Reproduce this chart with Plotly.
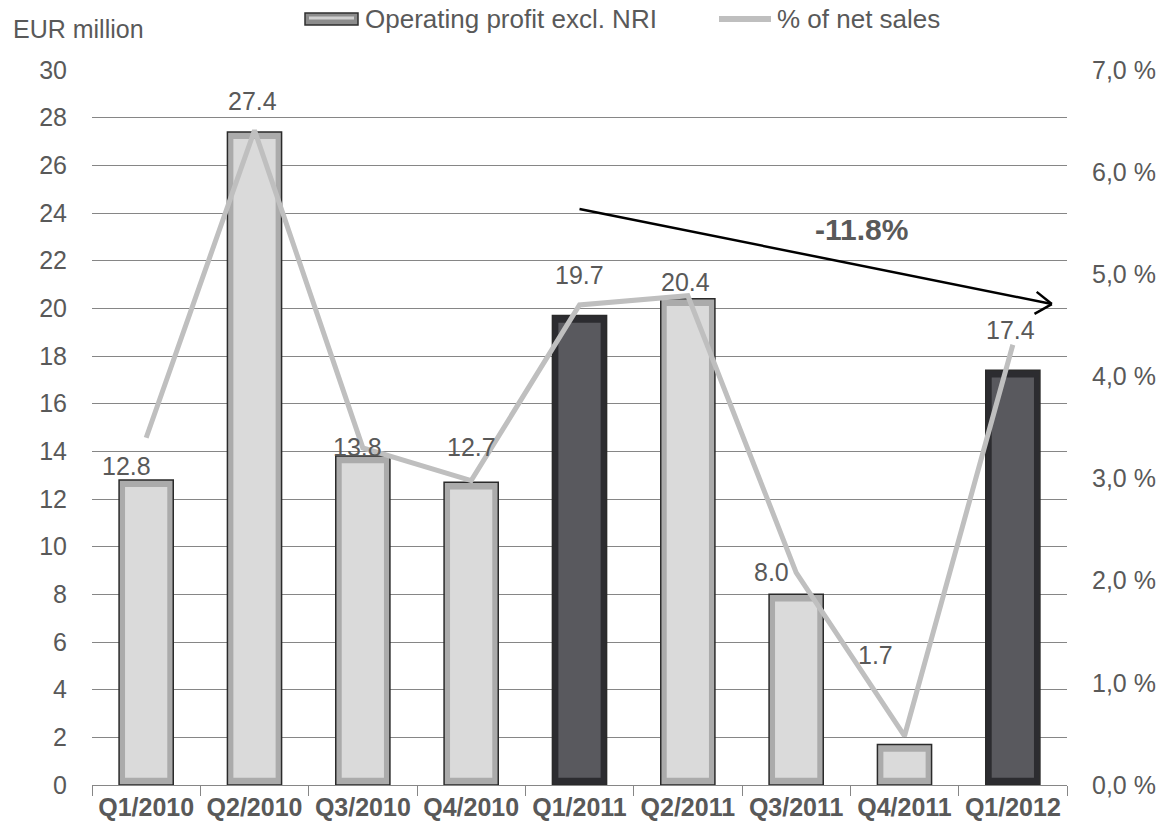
import plotly.graph_objects as go

quarters = ["Q1/2010", "Q2/2010", "Q3/2010", "Q4/2010", "Q1/2011",
            "Q2/2011", "Q3/2011", "Q4/2011", "Q1/2012"]
op_profit = [12.8, 27.4, 13.8, 12.7, 19.7, 20.4, 8.0, 1.7, 17.4]
pct_net_sales = [3.40, 6.41, 3.30, 2.98, 4.70, 4.79, 2.08, 0.48, 4.31]
highlight = [False, False, False, False, True, False, False, False, True]
left_ticks = list(range(0, 31, 2))
right_ticks = [0, 1, 2, 3, 4, 5, 6, 7]
right_ticktext = ["0,0 %", "1,0 %", "2,0 %", "3,0 %", "4,0 %", "5,0 %", "6,0 %", "7,0 %"]
trend_label = "-11.8%"
bar_name = "Operating profit excl. NRI"
line_name = "% of net sales"

# label placement styles (offset above value in axis units, horizontal shift in px)
label_dy = [0.58, 1.28, 0.37, 1.47, 1.68, 0.69, 0.93, 3.75, 1.68]
label_dx = [-20, -2, -5, 0, 0, -2, -25, -29, -2]

LIGHT_FACE, LIGHT_RIM = "#dadada", "#ababab"
DARK_FACE, DARK_RIM = "#59595e", "#2c2c30"
TXT = "#595959"
LINEC = "#bfbfbf"
FONT = "Liberation Sans, Arial, sans-serif"
BEVEL = 0.3  # bevel thickness in axis units (style)

W, H = 1161, 828
ML, MR, MT, MB = 92, 94, 70, 43
PW, PH = W - ML - MR, H - MT - MB


def px(xpix):
    return (xpix - ML) / PW


def py(ypix):
    return (H - MB - ypix) / PH


fig = go.Figure()
# outer bar (bevel rim)
fig.add_trace(go.Bar(
    x=quarters, y=op_profit, name=bar_name, showlegend=False,
    marker=dict(color=[DARK_RIM if h else LIGHT_RIM for h in highlight],
                line=dict(color="#2a2a2a", width=1.5)),
    width=0.5, yaxis="y",
))
# inner face of the bevelled bar
fig.add_trace(go.Bar(
    x=quarters, y=[v - 2 * BEVEL for v in op_profit], base=BEVEL,
    name=bar_name, showlegend=False, hoverinfo="skip",
    marker=dict(color=[DARK_FACE if h else LIGHT_FACE for h in highlight],
                line=dict(width=0)),
    width=0.39, yaxis="y",
))
fig.add_trace(go.Scatter(
    x=quarters, y=pct_net_sales, name=line_name, mode="lines", showlegend=False,
    line=dict(color=LINEC, width=5), yaxis="y2",
))

for i, (q, v) in enumerate(zip(quarters, op_profit)):
    fig.add_annotation(x=q, y=v + label_dy[i], text=f"{v:.1f}", showarrow=False,
                       xshift=label_dx[i], font=dict(size=25, color=TXT, family=FONT),
                       xref="x", yref="y")

# trend arrow
ax0, ay0, ax1, ay1 = 4.0, 24.17, 8.36, 20.18
arm = dict(color="black", width=2.5)
fig.add_shape(type="line", x0=ax0, y0=ay0, x1=ax1, y1=ay1, xref="x", yref="y", line=arm)
fig.add_shape(type="line", x0=8.22, y0=20.69, x1=ax1, y1=ay1, xref="x", yref="y", line=arm)
fig.add_shape(type="line", x0=8.20, y0=19.77, x1=ax1, y1=ay1, xref="x", yref="y", line=arm)
fig.add_annotation(x=6.6, y=23.3, text=f"<b>{trend_label}</b>", showarrow=False,
                   xref="x", yref="y", font=dict(size=30, color=TXT, family=FONT))

# axis title
fig.add_annotation(x=px(11), y=py(29), xref="paper", yref="paper", text="EUR million",
                   showarrow=False, xanchor="left", yanchor="middle",
                   font=dict(size=25, color=TXT, family=FONT))

# legend (drawn)
ly = py(19)
fig.add_shape(type="rect", xref="paper", yref="paper", x0=px(305), x1=px(358),
              y0=py(25), y1=py(13), fillcolor="#8c8c8c", line=dict(color="#2e2e2e", width=1.5))
fig.add_shape(type="line", xref="paper", yref="paper", x0=px(309), x1=px(354),
              y0=py(18), y1=py(18), line=dict(color="#d0d0d0", width=3))
fig.add_annotation(x=px(363), y=ly, xref="paper", yref="paper", text=bar_name,
                   showarrow=False, xanchor="left", yanchor="middle",
                   font=dict(size=26, color=TXT, family=FONT))
fig.add_shape(type="line", xref="paper", yref="paper", x0=px(719), x1=px(771),
              y0=ly, y1=ly, line=dict(color=LINEC, width=6))
fig.add_annotation(x=px(775), y=ly, xref="paper", yref="paper", text=line_name,
                   showarrow=False, xanchor="left", yanchor="middle",
                   font=dict(size=26, color=TXT, family=FONT))

fig.update_layout(
    width=W, height=H,
    margin=dict(l=ML, r=MR, t=MT, b=MB, autoexpand=False),
    paper_bgcolor="white", plot_bgcolor="white",
    font=dict(family=FONT, color=TXT, size=25),
    showlegend=False,
    barmode="overlay",
    xaxis=dict(type="category", showgrid=False, showline=True, linecolor="#868686",
               linewidth=1, ticks="outside", ticklen=10, tickcolor="#868686",
               tickson="boundaries",
               tickfont=dict(size=25, color=TXT, family=FONT, weight="bold"),
               ticklabelstandoff=0, range=[-0.5, 8.5]),
    yaxis=dict(range=[0, 30], tickvals=left_ticks, showgrid=True, gridcolor="#868686",
               gridwidth=1, zeroline=False, showline=False, ticks="",
               tickfont=dict(size=25, color=TXT), ticklabelstandoff=24),
    yaxis2=dict(range=[0, 7], overlaying="y", side="right", tickvals=right_ticks,
                ticktext=right_ticktext, showgrid=False, zeroline=False, showline=False,
                tickfont=dict(size=25, color=TXT), ticklabelstandoff=24),
)

fig.write_html("out.html")
